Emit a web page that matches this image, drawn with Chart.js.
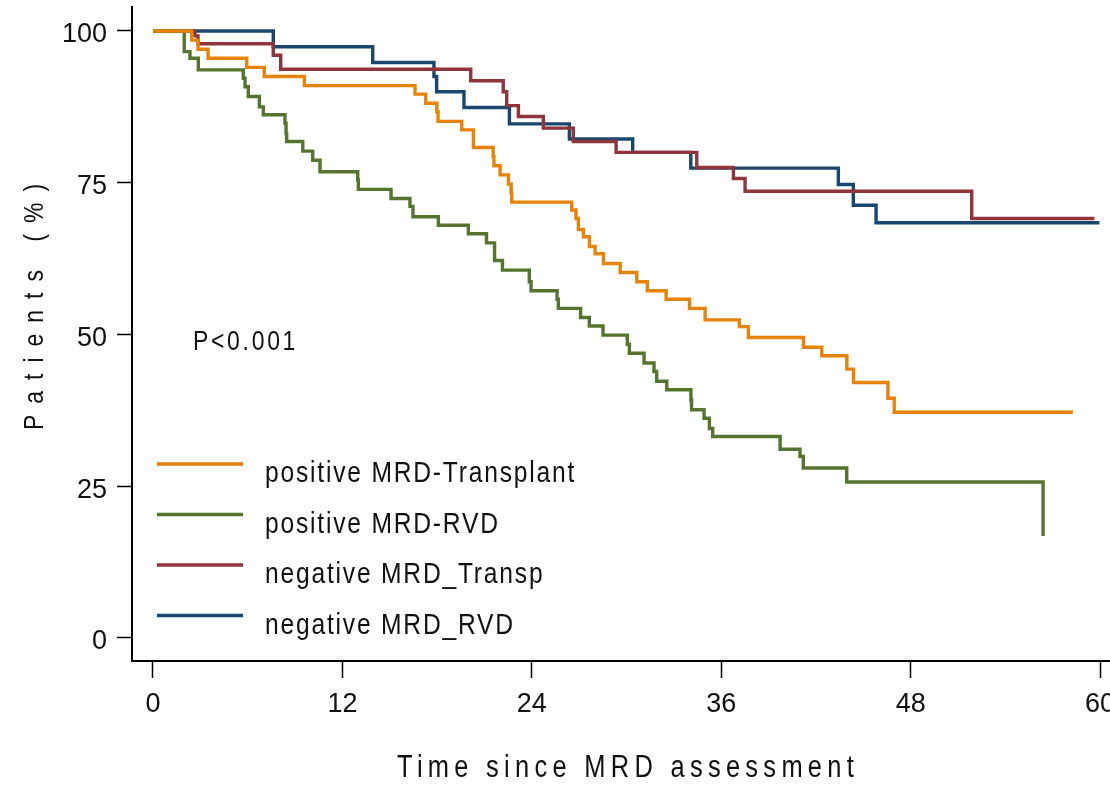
<!DOCTYPE html>
<html>
<head>
<meta charset="utf-8">
<script src="https://cdn.jsdelivr.net/npm/chart.js@4.4.1/dist/chart.umd.min.js"></script>
<style>
  html, body { margin: 0; padding: 0; background: #fff; }
</style>
</head>
<body>
<canvas id="km" width="1110" height="786"></canvas>
<script>
// series labels and axis ticks
const seriesNames = ["positive MRD-Transplant", "positive MRD-RVD", "negative MRD_Transp", "negative MRD_RVD"];
const seriesColors = ["rgb(232,131,10)", "rgb(85,117,47)", "rgb(144,53,59)", "rgb(26,71,111)"];
const xTicks = [0, 12, 24, 36, 48, 60];
const yTicks = [0, 25, 50, 75, 100];

// Kaplan-Meier steps (months, % patients)
const posTxTime = [0, 2.45, 2.85, 3.49, 5.94, 7.05, 9.59, 16.6, 17.28, 17.98, 18.06, 19.56, 20.3, 21.55, 21.6, 21.99, 22.52, 22.69, 22.73, 26.53, 26.8, 26.95, 27.27, 27.65, 28.01, 28.54, 29.6, 30.65, 31.32, 32.51, 33.99, 34.98, 37.15, 37.72, 41.21, 42.37, 43.96, 44.38, 46.56, 46.96, 58.28];
const posTxSurv = [100, 98.5, 97.0, 95.5, 94.0, 92.5, 91.0, 89.6, 88.1, 86.7, 85.1, 83.7, 80.8, 79.3, 77.8, 76.3, 74.8, 73.3, 71.8, 70.5, 69.1, 67.3, 66.1, 64.5, 63.3, 61.7, 60.2, 58.7, 57.2, 55.8, 54.3, 52.4, 51.3, 49.5, 47.9, 46.5, 44.3, 42.1, 39.5, 37.2, 37.2];

const posRvdTime = [0, 1.98, 2.34, 2.87, 5.72, 5.83, 6.04, 6.74, 6.99, 8.36, 8.43, 8.47, 9.49, 10.12, 10.58, 12.97, 13.01, 15.08, 16.28, 16.47, 18.08, 19.98, 21.13, 21.64, 22.14, 23.84, 23.95, 25.6, 25.68, 27.09, 27.64, 28.51, 30.05, 30.18, 31.11, 31.74, 31.91, 32.55, 34.08, 34.12, 34.91, 35.25, 35.46, 39.73, 40.99, 41.2, 43.95, 56.39];
const posRvdSurv = [100, 96.6, 95.5, 93.6, 92.2, 90.8, 89.2, 87.5, 86.2, 84.8, 83.1, 81.8, 80.2, 78.7, 76.8, 75.5, 73.9, 72.4, 71.1, 69.4, 68.0, 66.6, 65.1, 62.2, 60.6, 58.7, 57.2, 55.8, 54.3, 52.8, 51.4, 49.9, 48.4, 46.9, 45.3, 43.9, 42.3, 40.9, 39.2, 37.6, 36.2, 34.5, 33.2, 31.1, 29.9, 28.0, 25.7, 16.8];

const negTxTime = [0, 2.66, 2.85, 7.62, 8.09, 20.13, 22.19, 22.41, 23.15, 24.73, 26.63, 29.34, 34.45, 36.77, 37.51, 51.87, 59.64];
const negTxSurv = [100, 99.2, 97.9, 96.0, 93.7, 91.8, 90.0, 87.7, 85.9, 84.0, 81.8, 80.0, 77.5, 75.7, 73.6, 69.1, 69.1];

const negRvdTime = [0, 7.62, 13.92, 17.8, 17.97, 19.7, 22.58, 26.38, 30.39, 34.07, 43.42, 44.37, 45.81, 59.96];
const negRvdSurv = [100, 97.4, 94.8, 92.5, 90.0, 87.4, 84.7, 82.2, 80.0, 77.4, 74.7, 71.3, 68.4, 68.4];

const FONT = "'Liberation Sans', Arial, sans-serif";

const toPoints = (t, s) => t.map((x, i) => ({ x: x, y: s[i] }));
const curves = [
  toPoints(posTxTime, posTxSurv),
  toPoints(posRvdTime, posRvdSurv),
  toPoints(negTxTime, negTxSurv),
  toPoints(negRvdTime, negRvdSurv)
];

// narrow, spaced-out text like the Stata export: squeeze glyphs, then space them
function narrowText(ctx, text, x, y, size, spacing) {
  const sx = 0.82;
  ctx.save();
  ctx.translate(x, y);
  ctx.scale(sx, 1);
  ctx.font = `${size}px ${FONT}`;
  ctx.letterSpacing = (spacing / sx) + 'px';
  ctx.fillText(text, 0, 0);
  ctx.restore();
}

// titles, legend and p-value
const extraText = {
  id: 'extraText',
  beforeDraw(chart) {
    chart.ctx.letterSpacing = '0px';
  },
  afterDraw(chart) {
    const ctx = chart.ctx;
    ctx.save();
    ctx.fillStyle = '#111';
    ctx.textAlign = 'left';
    ctx.textBaseline = 'alphabetic';

    chart.data.datasets.forEach((ds, i) => {
      const y = 464 + i * 50.5;
      ctx.strokeStyle = ds.borderColor;
      ctx.lineWidth = 3.5;
      ctx.beginPath();
      ctx.moveTo(157, y);
      ctx.lineTo(243, y);
      ctx.stroke();
      narrowText(ctx, ds.label, 265, y + 18, 30, 1.8);
    });

    narrowText(ctx, 'P<0.001', 193, 350, 28, 2.7);
    narrowText(ctx, 'Time since MRD assessment', 397, 777, 31, 5.3);

    ctx.translate(43, 430);
    ctx.rotate(-Math.PI / 2);
    narrowText(ctx, 'Patients (%)', 0, 0, 28, 11);
    ctx.restore();
  }
};

Chart.defaults.font.family = FONT;
Chart.defaults.color = '#111';

new Chart(document.getElementById('km'), {
  type: 'line',
  data: {
    datasets: curves.map((pts, i) => ({
      label: seriesNames[i],
      data: pts,
      borderColor: seriesColors[i],
      backgroundColor: seriesColors[i],
      borderWidth: 3.4,
      pointRadius: 0,
      stepped: true,
      fill: false,
      borderCapStyle: 'butt',
      borderJoinStyle: 'miter'
    }))
  },
  options: {
    responsive: false,
    animation: false,
    devicePixelRatio: 1,
    layout: { padding: { top: 7, right: 0, bottom: 0, left: 0 } },
    plugins: {
      legend: { display: false },
      tooltip: { enabled: false }
    },
    scales: {
      x: {
        type: 'linear',
        min: -1.33,
        max: 60.63,
        afterBuildTicks: s => { s.ticks = xTicks.map(v => ({ value: v })); },
        afterFit: s => { s.height = 125; s.paddingLeft = 0; s.paddingRight = 0; },
        border: { display: true, color: '#000', width: 2 },
        grid: { display: true, drawOnChartArea: false, drawTicks: true, tickLength: 17, tickWidth: 1.5, tickColor: '#000' },
        ticks: { font: { size: 27 }, color: '#111', padding: 10, maxRotation: 0, autoSkip: false }
      },
      y: {
        type: 'linear',
        min: -3.79,
        max: 103.95,
        afterBuildTicks: s => { s.ticks = yTicks.map(v => ({ value: v })); },
        afterFit: s => { s.width = 132; s.paddingTop = 0; s.paddingBottom = 0; },
        border: { display: true, color: '#000', width: 2 },
        grid: { display: true, drawOnChartArea: false, drawTicks: true, tickLength: 15, tickWidth: 1.5, tickColor: '#000' },
        ticks: { font: { size: 27 }, color: '#111', padding: 10, labelOffset: 4, autoSkip: false }
      }
    }
  },
  plugins: [extraText]
});
</script>
</body>
</html>
